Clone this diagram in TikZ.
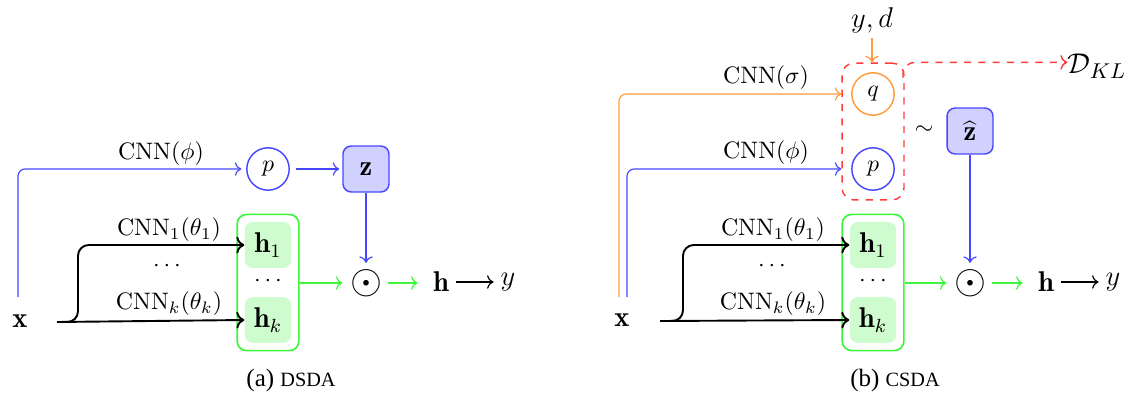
\documentclass[tikz,border=0pt]{standalone}
\usepackage{fontspec}
\newfontfamily\capfont{Liberation Serif}
\usetikzlibrary{fit,arrows.meta}
\definecolor{cblue}{RGB}{70,70,255}
\definecolor{cgreen}{RGB}{60,245,60}
\definecolor{corange}{RGB}{255,155,60}
\definecolor{cred}{RGB}{255,60,60}
\tikzset{
  lbl/.style={inner sep=0pt},
  bigm/.style={font=\large,inner sep=0pt},
  circ/.style={circle,draw,line width=0.6pt,minimum size=17.8pt,inner sep=0pt},
  zbox/.style={rectangle,rounded corners=3.4pt,draw=cblue,fill=cblue!25,line width=0.6pt,minimum width=19.3pt,minimum height=19.3pt,inner sep=0pt,font=\large},
  hbox/.style={rectangle,rounded corners=3.4pt,fill=cgreen!25,minimum width=19.5pt,minimum height=19.3pt,inner sep=0pt,font=\large},
  gbox/.style={rectangle,rounded corners=4pt,draw=cgreen,line width=0.7pt,inner sep=3pt},
  dbox/.style={rectangle,rounded corners=5pt,draw=cred,dashed,line width=0.6pt,inner sep=3.8pt},
  odotn/.style={inner sep=0pt,font=\fontsize{17.5}{19}\selectfont},
  bl/.style={->,line width=0.5pt,draw=cblue},
  gl/.style={->,line width=0.5pt,draw=cgreen},
  ol/.style={->,line width=0.5pt,draw=corange},
  kl/.style={->,line width=0.8pt,rounded corners=4.5pt},
  captext/.style={inner sep=0pt,font=\capfont\fontsize{10.5}{12}\selectfont}
}
\begin{document}
\begin{tikzpicture}[x=0.42pt,y=-0.42pt]
\useasboundingbox (0,0) rectangle (1131,394);
% ---------------- (a) DSDA
\node[bigm] (x1) at (20,321) {$\mathbf{x}$};
\coordinate (bs1) at (18,297);
\coordinate (ks1) at (57,322);
\node[circ,draw=cblue] (p1) at (268,169) {$p$};
\node[zbox] (z1) at (366,169) {$\mathbf{z}$};
\node[hbox] (h11) at (268,245) {$\mathbf{h}_1$};
\node[hbox] (hk1) at (268,320) {$\mathbf{h}_k$};
\node[gbox,fit=(h11)(hk1)] (g1) {};
\node[lbl] (gd1) at (268,281) {$\cdots$};
\node[lbl] (ld1) at (167,266) {$\cdots$};
\node[lbl] (c11) at (169,230) {$\mathrm{CNN}_1(\theta_1)$};
\node[lbl] (ck1) at (169,304) {$\mathrm{CNN}_k(\theta_k)$};
\node[lbl] (cp1) at (161,154) {$\mathrm{CNN}(\phi)$};
\node[odotn] (o1) at (366,283) {$\odot$};
\node[bigm] (hh1) at (441,282) {$\mathbf{h}$};
\node[bigm] (yy1) at (508,282) {$y$};
\draw[bl,rounded corners=3pt,shorten >=2pt] (bs1) |- (p1.west);
\draw[bl,shorten <=2.5pt,shorten >=1.3pt] (p1.east) -- (z1.west);
\draw[bl,shorten >=2.5pt] (z1.south) -- (o1.north);
\draw[kl] (ks1) -- (hk1.west);
\draw[kl] (ks1) -- (78,322) -- (78,245) -- (h11.west);
\draw[gl,shorten >=3pt] (g1.east |- o1) -- (o1.west);
\draw[gl,shorten <=2.5pt,shorten >=6.3pt] (o1.east) -- (hh1.west |- o1);
\draw[->,line width=0.5pt,shorten <=2.8pt,shorten >=2.8pt] (hh1.east) -- (yy1.west);
\node[captext] (cap1) at (291,380) {(a) {\fontsize{8.5}{10}\selectfont DSDA}};
% ---------------- (b) CSDA
\node[bigm] (x2) at (622,320) {$\mathbf{x}$};
\coordinate (os2) at (619,297);
\coordinate (bs2) at (627,297);
\coordinate (ks2) at (660,321);
\node[circ,draw=corange] (q2) at (873,94) {$q$};
\node[circ,draw=cblue] (p2) at (873,169) {$p$};
\node[dbox,fit=(q2)(p2)] (d2) {};
\node[lbl,font=\fontsize{11.5}{13}\selectfont] (yd) at (872,20) {$y,d$};
\node[lbl,font=\fontsize{13}{15}\selectfont] (dkl) at (1097,66) {$\mathcal{D}_{KL}$};
\coordinate (kls) at (903,78);
\node[lbl] (sim) at (924,130) {$\sim$};
\node[zbox] (z2) at (970,131) {$\widehat{\mathbf{z}}$};
\node[hbox] (h12) at (873,245) {$\mathbf{h}_1$};
\node[hbox] (hk2) at (873,320) {$\mathbf{h}_k$};
\node[gbox,fit=(h12)(hk2)] (g2) {};
\node[lbl] (gd2) at (873,281) {$\cdots$};
\node[lbl] (ld2) at (772,266) {$\cdots$};
\node[lbl] (c12) at (773,230) {$\mathrm{CNN}_1(\theta_1)$};
\node[lbl] (ck2) at (773,304) {$\mathrm{CNN}_k(\theta_k)$};
\node[lbl] (cs2) at (766,78) {$\mathrm{CNN}(\sigma)$};
\node[lbl] (cp2) at (766,153) {$\mathrm{CNN}(\phi)$};
\node[odotn] (o2) at (970,283) {$\odot$};
\node[bigm] (hh2) at (1046,282) {$\mathbf{h}$};
\node[bigm] (yy2) at (1113,282) {$y$};
\draw[ol,rounded corners=3pt] (os2) |- (d2.west |- q2);
\draw[bl,rounded corners=3pt] (bs2) |- (d2.west |- p2);
\draw[ol,shorten <=2pt] (yd.south) -- (d2.north -| yd);
\draw[->,cred,dashed,line width=0.6pt,rounded corners=5pt] (kls) |- (dkl.west |- d2.north);
\draw[bl,shorten >=2.5pt] (z2.south) -- (o2.north);
\draw[kl] (ks2) -- (hk2.west);
\draw[kl] (ks2) -- (683,321) -- (683,245) -- (h12.west);
\draw[gl,shorten >=3pt] (g2.east |- o2) -- (o2.west);
\draw[gl,shorten <=2.5pt,shorten >=6.3pt] (o2.east) -- (hh2.west |- o2);
\draw[->,line width=0.5pt,shorten <=2.8pt,shorten >=2.8pt] (hh2.east) -- (yy2.west);
\node[captext] (cap2) at (895,380) {(b) {\fontsize{8.5}{10}\selectfont CSDA}};
\end{tikzpicture}
\end{document}
